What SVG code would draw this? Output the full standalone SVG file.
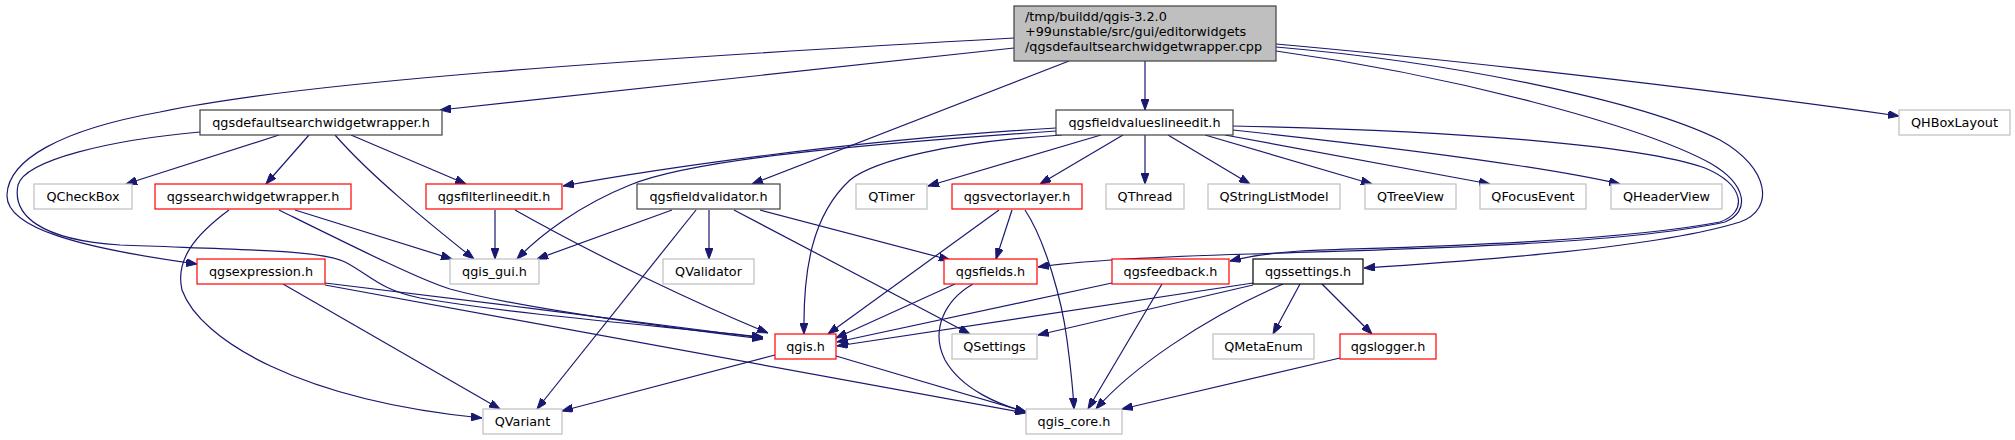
<svg xmlns="http://www.w3.org/2000/svg" width="2015" height="440" viewBox="0 0 2015 440">
<style>
text{font-family:"DejaVu Sans","Liberation Sans",sans-serif;font-size:12.8px;fill:#000}
.n text{text-anchor:middle}
rect{fill:#fff;stroke-width:1.2}
.g rect{stroke:#bfbfbf}
.r rect{stroke:#ff0000}
.k rect{stroke:#404040}
.b rect{stroke:#000}
#edges path{fill:none;stroke:#191970;stroke-width:1.2;marker-end:url(#ah)}
</style>
<defs>
<marker id="ah" markerWidth="11" markerHeight="8" refX="11" refY="4" orient="auto" markerUnits="userSpaceOnUse"><path d="M0,0L11,4L0,8z" fill="#191970" stroke="#191970" stroke-width="1"/></marker>
</defs>
<rect width="2015" height="440" fill="#fff" stroke="none"/>
<g id="edges">
<path d="M1014,48 L440,110"/>
<path d="M1014,38 C620,60 300,82 160,112 C60,130 8,160 7,195 C6,228 80,248 197,264"/>
<path d="M1069,61 L752,184"/>
<path d="M1145,61 L1145,110"/>
<path d="M1276,44 C1500,64 1750,95 1899,116"/>
<path d="M1276,51 C1450,75 1640,125 1710,163 C1748,185 1750,212 1725,222 C1620,245 1400,249 1250,254 C1150,257 1080,261 1038,267"/>
<path d="M1276,47 C1450,62 1640,100 1720,140 C1770,168 1775,210 1740,222 C1650,250 1450,262 1364,268"/>
<path d="M1233,126 C1450,130 1640,145 1705,168 C1745,185 1748,212 1720,222 C1600,245 1350,248 1300,251 C1270,253 1250,256 1230,261"/>
<path d="M1233,130 C1400,148 1550,168 1620,184"/>
<path d="M1225,135 L1490,184"/>
<path d="M1205,135 L1372,184"/>
<path d="M1168,135 L1250,184"/>
<path d="M1145,135 L1145,184"/>
<path d="M1123,135 L1040,184"/>
<path d="M1101,135 L928,186"/>
<path d="M1056,128 C850,140 650,170 563,186"/>
<path d="M1056,131 C850,145 690,160 630,185 C580,205 540,235 517,259"/>
<path d="M1062,135 C950,142 875,160 850,180 C812,215 803,270 804,334"/>
<path d="M279,135 L126,184"/>
<path d="M309,135 L266,184"/>
<path d="M335,135 C370,175 425,220 474,259"/>
<path d="M351,135 L466,184"/>
<path d="M200,132 C110,140 25,160 18,185 C12,215 40,240 120,245 C250,250 320,250 345,262 C370,275 380,290 420,298 C520,315 650,325 763,337"/>
<path d="M229,210 C195,235 175,260 182,290 C200,340 300,400 482,418"/>
<path d="M295,210 L452,259"/>
<path d="M279,210 C350,245 420,280 450,289 C520,308 650,325 763,339"/>
<path d="M325,283 C450,298 650,323 763,338"/>
<path d="M325,285 L1026,413"/>
<path d="M283,284 L500,409"/>
<path d="M495,210 L495,259"/>
<path d="M515,210 C600,258 700,305 768,333"/>
<path d="M672,210 L537,259"/>
<path d="M696,210 L537,409"/>
<path d="M709,210 L709,259"/>
<path d="M734,210 L970,334"/>
<path d="M760,210 L950,260"/>
<path d="M999,210 L828,334"/>
<path d="M1012,210 L996,259"/>
<path d="M1025,210 C1045,240 1062,300 1067,340 C1071,370 1073,390 1074,409"/>
<path d="M955,284 L836,338"/>
<path d="M973,284 C945,300 930,330 945,360 C962,390 1000,405 1026,412"/>
<path d="M1112,283 L837,342"/>
<path d="M1162,284 L1088,409"/>
<path d="M1253,283 L837,346"/>
<path d="M1253,285 L1038,335"/>
<path d="M1283,284 C1200,320 1130,370 1096,409"/>
<path d="M1300,284 L1273,334"/>
<path d="M1322,284 L1372,334"/>
<path d="M1340,358 L1122,409"/>
<path d="M775,355 L562,411"/>
<path d="M836,356 L1026,412"/>
</g>
<g id="main" class="n">
<rect x="1014" y="6" width="262" height="55" style="fill:#bfbfbf;stroke:#404040"/>
<text x="1025" y="21" style="text-anchor:start">/tmp/buildd/qgis-3.2.0</text>
<text x="1025" y="36" style="text-anchor:start">+99unstable/src/gui/editorwidgets</text>
<text x="1025" y="51" style="text-anchor:start">/qgsdefaultsearchwidgetwrapper.cpp</text>
</g>
<g id="qgsdefaultsearchwidgetwrapper" class="n k"><rect x="200" y="110" width="242" height="25"/><text x="321" y="127">qgsdefaultsearchwidgetwrapper.h</text></g>
<g id="qgsfieldvalueslineedit" class="n k"><rect x="1056" y="110" width="177" height="25"/><text x="1144.5" y="127">qgsfieldvalueslineedit.h</text></g>
<g id="QHBoxLayout" class="n g"><rect x="1899" y="110" width="111" height="25"/><text x="1954.5" y="127">QHBoxLayout</text></g>
<g id="QCheckBox" class="n g"><rect x="34" y="184" width="98" height="25"/><text x="83" y="201">QCheckBox</text></g>
<g id="qgssearchwidgetwrapper" class="n r"><rect x="155" y="184" width="196" height="25"/><text x="253" y="201">qgssearchwidgetwrapper.h</text></g>
<g id="qgsfilterlineedit" class="n r"><rect x="426" y="184" width="136" height="25"/><text x="494" y="201">qgsfilterlineedit.h</text></g>
<g id="qgsfieldvalidator" class="n k"><rect x="637" y="184" width="143" height="25"/><text x="708.5" y="201">qgsfieldvalidator.h</text></g>
<g id="QTimer" class="n g"><rect x="856" y="184" width="71" height="25"/><text x="891.5" y="201">QTimer</text></g>
<g id="qgsvectorlayer" class="n r"><rect x="952" y="184" width="130" height="25"/><text x="1017" y="201">qgsvectorlayer.h</text></g>
<g id="QThread" class="n g"><rect x="1106" y="184" width="78" height="25"/><text x="1145" y="201">QThread</text></g>
<g id="QStringListModel" class="n g"><rect x="1208" y="184" width="132" height="25"/><text x="1274" y="201">QStringListModel</text></g>
<g id="QTreeView" class="n g"><rect x="1365" y="184" width="91" height="25"/><text x="1410.5" y="201">QTreeView</text></g>
<g id="QFocusEvent" class="n g"><rect x="1480" y="184" width="106" height="25"/><text x="1533" y="201">QFocusEvent</text></g>
<g id="QHeaderView" class="n g"><rect x="1611" y="184" width="111" height="25"/><text x="1666.5" y="201">QHeaderView</text></g>
<g id="qgsexpression" class="n r"><rect x="197" y="259" width="128" height="25"/><text x="261" y="276">qgsexpression.h</text></g>
<g id="qgis_gui" class="n g"><rect x="450" y="259" width="89" height="25"/><text x="494.5" y="276">qgis_gui.h</text></g>
<g id="QValidator" class="n g"><rect x="663" y="259" width="91" height="25"/><text x="708.5" y="276">QValidator</text></g>
<g id="qgsfields" class="n r"><rect x="944" y="259" width="93" height="25"/><text x="990.5" y="276">qgsfields.h</text></g>
<g id="qgsfeedback" class="n r"><rect x="1112" y="259" width="117" height="25"/><text x="1170.5" y="276">qgsfeedback.h</text></g>
<g id="qgssettings" class="n b"><rect x="1253" y="259" width="110" height="25"/><text x="1308" y="276">qgssettings.h</text></g>
<g id="qgis" class="n r"><rect x="775" y="334" width="61" height="25"/><text x="805.5" y="351">qgis.h</text></g>
<g id="QSettings" class="n g"><rect x="952" y="334" width="85" height="25"/><text x="994.5" y="351">QSettings</text></g>
<g id="QMetaEnum" class="n g"><rect x="1213" y="334" width="101" height="25"/><text x="1263.5" y="351">QMetaEnum</text></g>
<g id="qgslogger" class="n r"><rect x="1340" y="334" width="96" height="25"/><text x="1388" y="351">qgslogger.h</text></g>
<g id="QVariant" class="n g"><rect x="483" y="409" width="79" height="25"/><text x="522.5" y="426">QVariant</text></g>
<g id="qgis_core" class="n g"><rect x="1026" y="409" width="96" height="25"/><text x="1074" y="426">qgis_core.h</text></g>
</svg>
